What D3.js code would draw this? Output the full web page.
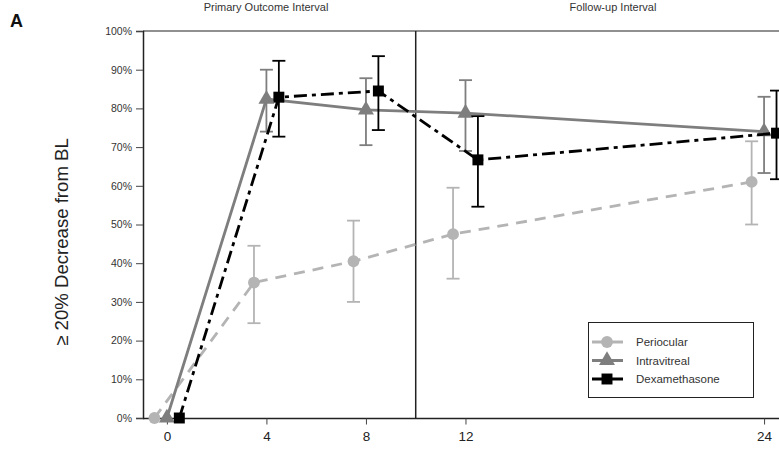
<!DOCTYPE html>
<html><head><meta charset="utf-8">
<script src="https://cdn.jsdelivr.net/npm/d3@7"></script>
<style>body{margin:0;background:#fff}svg{display:block}</style>
</head><body>
<svg id="c" width="779" height="449"></svg>
<script>
const xTicks = [0, 4, 8, 12, 24];
const yTicks = [0, 10, 20, 30, 40, 50, 60, 70, 80, 90, 100];
const divider = 10;
const seriesNames = ["Periocular", "Intravitreal", "Dexamethasone"];
const periX = [-0.5, 3.5, 7.5, 11.5, 23.5];
const periY = [0, 35, 40.5, 47.5, 61];
const periLo = [null, 24.5, 30, 36, 50];
const periHi = [null, 44.5, 51, 59.5, 71.5];
const intraX = [0, 4, 8, 12, 24];
const intraY = [0, 82.4, 79.6, 78.8, 74];
const intraLo = [null, 74, 70.5, 69, 63.3];
const intraHi = [null, 90, 87.8, 87.3, 83];
const dexaX = [0.5, 4.5, 8.5, 12.5, 24.5];
const dexaY = [0, 82.9, 84.5, 66.7, 73.6];
const dexaLo = [null, 72.7, 74.4, 54.6, 61.7];
const dexaHi = [null, 92.3, 93.5, 78, 84.6];

const svg = d3.select("#c");
const x = d3.scaleLinear().domain([-0.96, 24.6]).range([143, 779]);
const y = d3.scaleLinear().domain([0, 100]).range([418, 31]);

const font = "Liberation Sans, Arial, sans-serif";

// frame
svg.append("line").attr("x1", 143).attr("x2", 779).attr("y1", y(100)).attr("y2", y(100)).attr("stroke", "#222").attr("stroke-width", 1.2);
svg.append("line").attr("x1", x(divider)).attr("x2", x(divider)).attr("y1", y(100)).attr("y2", y(0)).attr("stroke", "#222").attr("stroke-width", 1.5);

const yAxis = svg.append("g").attr("transform", "translate(143,0)")
  .call(d3.axisLeft(y).tickValues(yTicks).tickFormat(d => d + "%").tickSize(7).tickPadding(4));
yAxis.select(".domain").attr("stroke", "#222").attr("stroke-width", 1.5);
yAxis.selectAll(".tick line").attr("stroke", "#444");
yAxis.selectAll("text").attr("font-family", font).attr("font-size", 10.5).attr("fill", "#333");

const xAxis = svg.append("g").attr("transform", "translate(0,418.5)")
  .call(d3.axisBottom(x).tickValues(xTicks).tickFormat(d3.format("d")).tickSize(6).tickPadding(7));
xAxis.select(".domain").attr("stroke", "#222").attr("stroke-width", 1.5).attr("d", "M143,0H779");
xAxis.selectAll(".tick line").attr("stroke", "#444");
xAxis.selectAll("text").attr("font-family", font).attr("font-size", 13.5).attr("fill", "#222");

// titles
svg.append("text").attr("x", 266).attr("y", 11).attr("text-anchor", "middle").attr("font-family", font).attr("font-size", 11).attr("fill", "#333").text("Primary Outcome Interval");
svg.append("text").attr("x", 613).attr("y", 11).attr("text-anchor", "middle").attr("font-family", font).attr("font-size", 11).attr("fill", "#333").text("Follow-up Interval");
svg.append("text").attr("x", 10).attr("y", 27).attr("font-family", font).attr("font-weight", "bold").attr("font-size", 18).attr("fill", "#111").text("A");
svg.append("text").attr("transform", "translate(68,242) rotate(-90)").attr("text-anchor", "middle").attr("font-family", font).attr("font-size", 18.6).attr("fill", "#222").text("≥ 20% Decrease from BL");

const series = [
  {name: seriesNames[0], xs: periX, ys: periY, lo: periLo, hi: periHi, color: "#b4b4b4", dash: "11,8", shape: d3.symbolCircle, size: 110},
  {name: seriesNames[1], xs: intraX, ys: intraY, lo: intraLo, hi: intraHi, color: "#7e7e7e", dash: null, shape: d3.symbolTriangle, size: 110},
  {name: seriesNames[2], xs: dexaX, ys: dexaY, lo: dexaLo, hi: dexaHi, color: "#000", dash: "13,5,4,5", shape: d3.symbolSquare, size: 120}
];

const line = d3.line().x(d => x(d[0])).y(d => y(d[1]));

series.forEach(s => {
  const g = svg.append("g");
  const pts = s.xs.map((v, i) => [v, s.ys[i], s.lo[i], s.hi[i]]);
  pts.filter(p => p[2] != null).forEach(p => {
    const cx = x(p[0]);
    g.append("line").attr("x1", cx).attr("x2", cx).attr("y1", y(p[2])).attr("y2", y(p[3])).attr("stroke", s.color).attr("stroke-width", 1.8);
    [p[2], p[3]].forEach(v => g.append("line").attr("x1", cx - 6.5).attr("x2", cx + 6.5).attr("y1", y(v)).attr("y2", y(v)).attr("stroke", s.color).attr("stroke-width", 1.8));
  });
  g.append("path").attr("d", line(pts)).attr("fill", "none").attr("stroke", s.color).attr("stroke-width", 2.8).attr("stroke-dasharray", s.dash);
  pts.forEach(p => {
    g.append("path").attr("d", d3.symbol().type(s.shape).size(s.size)()).attr("transform", `translate(${x(p[0])},${y(p[1])})`).attr("fill", s.color);
  });
});

// legend
const lg = svg.append("g");
lg.append("rect").attr("x", 588.5).attr("y", 322.5).attr("width", 165).attr("height", 75).attr("fill", "#fff").attr("stroke", "#222").attr("stroke-width", 1);
series.forEach((s, i) => {
  const ly = 342 + i * 18.5;
  lg.append("line").attr("x1", 592).attr("x2", 623).attr("y1", ly).attr("y2", ly).attr("stroke", s.color).attr("stroke-width", 3);
  lg.append("path").attr("d", d3.symbol().type(s.shape).size(s.size)()).attr("transform", `translate(607,${ly})`).attr("fill", s.color);
  lg.append("text").attr("x", 636).attr("y", ly + 4).attr("font-family", font).attr("font-size", 11.5).attr("fill", "#333").text(s.name);
});
</script>
</body></html>
